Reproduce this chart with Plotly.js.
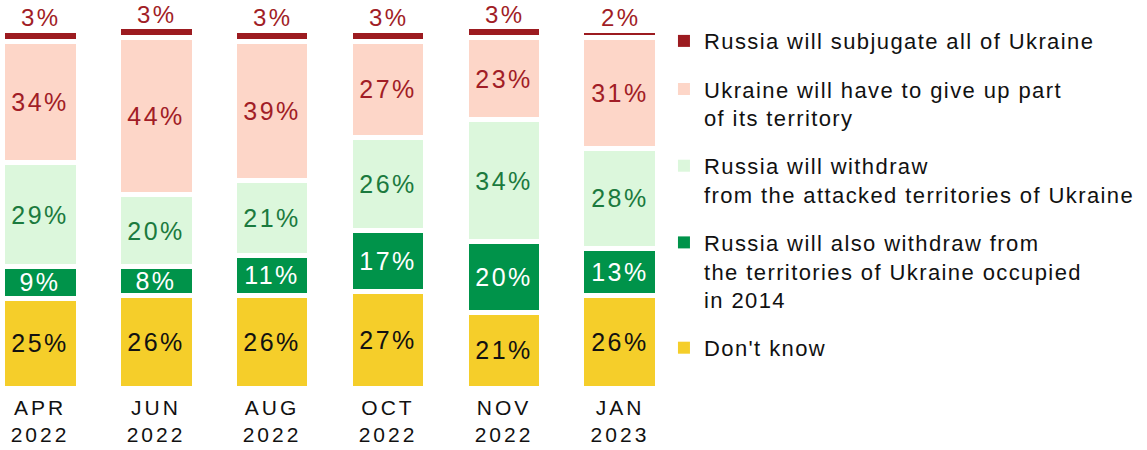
<!DOCTYPE html>
<html><head><meta charset="utf-8">
<script src="https://cdn.plot.ly/plotly-3.0.1.min.js"></script>
<style>
html,body{margin:0;padding:0;background:#fff;}
text.bartext{letter-spacing:2.5px;}
text.legendtext{letter-spacing:1.4px;}
.xtick text{letter-spacing:3px;}
.annotation-text{letter-spacing:2.5px;}
.legendpoints path{stroke-width:0 !important;}
</style>
</head><body>
<div id="chart" style="width:1147px;height:450px;"></div>
<script>
const categories = ['APR<br>2022','JUN<br>2022','AUG<br>2022','OCT<br>2022','NOV<br>2022','JAN<br>2023'];
const dontKnow = [25, 26, 26, 27, 21, 26];
const withdraw2014 = [9, 8, 11, 17, 20, 13];
const withdrawAttacked = [29, 20, 21, 26, 34, 28];
const giveUpPart = [34, 44, 39, 27, 23, 31];
const subjugateAll = [3, 3, 3, 3, 3, 2];

const seriesNames = [
  "Don't know",
  'Russia will also withdraw from<br>the territories of Ukraine occupied<br>in 2014',
  'Russia will withdraw<br>from the attacked territories of Ukraine',
  'Ukraine will have to give up part<br>of its territory',
  'Russia will subjugate all of Ukraine'
];
const seriesValues = [dontKnow, withdraw2014, withdrawAttacked, giveUpPart, subjugateAll];
const fillColors = ['#F5CE2A', '#00934A', '#DCF7DC', '#FDD6C8', '#9C1B20'];
const textColors = ['#111111', '#FFFFFF', '#1B7A3E', '#A11D26', '#A11D26'];

const FONT = 'Liberation Sans, Arial, sans-serif';

const traces = seriesValues.map((vals, i) => ({
  type: 'bar',
  x: categories,
  y: vals,
  name: seriesNames[i],
  legendgroup: 'g' + i,
  legendrank: 5 - i,
  marker: {color: fillColors[i], line: {color: '#FFFFFF', width: 5}},
  texttemplate: i === 4 ? '' : '%{y}%',
  textposition: i === 4 ? 'none' : 'inside',
  insidetextanchor: 'middle',
  textangle: 0,
  constraintext: 'none',
  cliponaxis: false,
  textfont: {family: FONT, size: 25, color: textColors[i]},
  hoverinfo: 'skip'
}));

// labels above the stacks for the top series
const topAnnotations = categories.map((c, j) => ({
  x: c,
  y: seriesValues.reduce((s, arr) => s + arr[j], 0),
  xref: 'x', yref: 'y',
  text: subjugateAll[j] + '%',
  showarrow: false,
  yanchor: 'bottom',
  yshift: -3,
  xshift: 1,
  font: {family: FONT, size: 24, color: textColors[4]}
}));

const layout = {
  width: 1147,
  height: 450,
  margin: {l: 0, r: 487, t: 25, b: 62, autoexpand: false},
  paper_bgcolor: '#FFFFFF',
  plot_bgcolor: '#FFFFFF',
  barmode: 'stack',
  bargap: 0.345,
  showlegend: true,
  hovermode: false,
  font: {family: FONT, color: '#111111'},
  annotations: topAnnotations,
  xaxis: {
    range: [-0.345, 5.345],
    showgrid: false, zeroline: false, showline: false,
    ticks: '', ticklabelstandoff: 5,
    tickfont: {family: FONT, size: 21, color: '#111111'},
    fixedrange: true
  },
  yaxis: {
    range: [0, 101.5],
    visible: false, showgrid: false, zeroline: false,
    fixedrange: true
  },
  legend: {
    x: 1.006, xanchor: 'left',
    y: 1.0135, yanchor: 'top',
    traceorder: 'grouped',
    tracegroupgap: 16.5,
    valign: 'top',
    maxheight: 440,
    font: {family: FONT, size: 22, color: '#111111'},
    bgcolor: 'rgba(0,0,0,0)'
  }
};

Plotly.newPlot('chart', traces, layout, {displayModeBar: false, staticPlot: true});
</script>
</body></html>
